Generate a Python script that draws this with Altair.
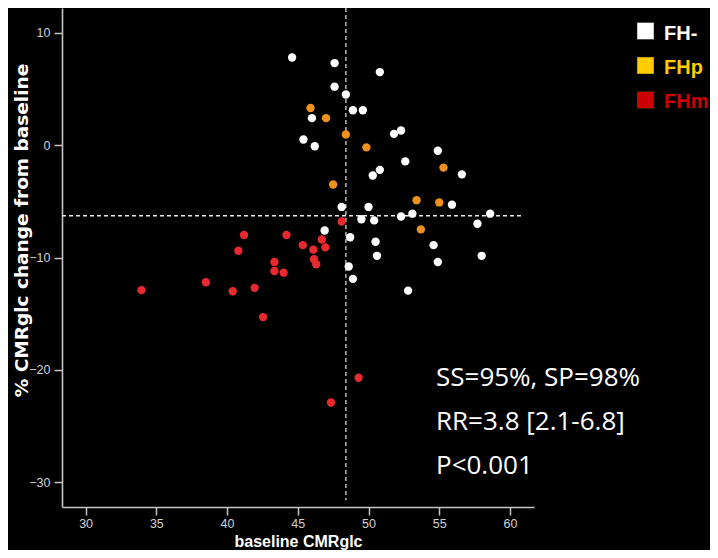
import altair as alt
import pandas as pd

# ---- data ----
fh_neg_x = [44.6, 47.6, 47.6, 48.4, 50.8, 48.9, 49.6, 46.0, 45.4, 46.2, 51.8, 52.3,
            54.9, 52.6, 50.8, 50.3, 56.6, 55.9, 48.1, 50.0, 49.5, 50.4, 52.3, 53.1,
            58.6, 57.7, 46.9, 48.7, 50.5, 54.6, 50.6, 58.0, 54.9, 48.6, 48.9, 52.8]
fh_neg_y = [7.8, 7.3, 5.2, 4.5, 6.5, 3.1, 3.1, 2.4, 0.5, -0.1, 1.0, 1.3,
            -0.5, -1.45, -2.2, -2.7, -2.6, -5.3, -5.5, -5.5, -6.6, -6.7, -6.35, -6.1,
            -6.1, -7.0, -7.6, -8.2, -8.6, -8.9, -9.85, -9.85, -10.4, -10.8, -11.9, -12.95]

fh_p_x = [45.9, 47.0, 48.4, 49.85, 47.5, 55.3, 53.4, 55.0, 53.7]
fh_p_y = [3.3, 2.4, 0.95, -0.2, -3.5, -2.0, -4.9, -5.1, -7.5]

fh_m_x = [48.1, 41.2, 44.2, 46.7, 45.35, 46.1, 46.95, 40.8, 43.35, 46.15,
          46.3, 43.35, 44.0, 38.5, 41.95, 40.4, 33.95, 42.55, 49.3, 47.35]
fh_m_y = [-6.8, -8.0, -8.0, -8.4, -8.9, -9.3, -9.1, -9.4, -10.4, -10.15,
          -10.6, -11.2, -11.35, -12.2, -12.7, -13.0, -12.9, -15.3, -20.7, -22.9]

groups = ["FH-", "FHp", "FHm"]
point_colors = ["#ffffff", "#f0911e", "#e8292e"]
legend_colors = ["#ffffff", "#ffcc00", "#cc0000"]

x_ticks = [30, 35, 40, 45, 50, 55, 60]
y_ticks = [10, 0, -10, -20, -30]
x_domain = [28.33, 61.7]
y_domain = [-32.2, 12.2]

vline_x = 48.4
vline_y = [12.2, -31.6]
hline_y = -6.28
hline_x = [28.33, 60.9]

stats_lines = ["SS=95%, SP=98%", "RR=3.8 [2.1-6.8]", "P<0.001"]

rows = []
for g, xs, ys in zip(groups, [fh_neg_x, fh_p_x, fh_m_x], [fh_neg_y, fh_p_y, fh_m_y]):
    for a, b in zip(xs, ys):
        rows.append({"baseline": a, "change": b, "group": g})
df = pd.DataFrame(rows)

W, H = 472, 499

x_enc = alt.X("baseline:Q", scale=alt.Scale(domain=x_domain, nice=False, zero=False),
              axis=alt.Axis(values=x_ticks, title="baseline CMRglc", titleY=39,
                            titleBaseline="alphabetic", titleFont="Liberation Sans",
                            titleFontSize=16, titleFontWeight="bold", tickSize=8,
                            labelPadding=2))
y_enc = alt.Y("change:Q", scale=alt.Scale(domain=y_domain, nice=False, zero=False),
              axis=alt.Axis(values=y_ticks, title="% CMRglc change from baseline",
                            titleX=-35, titleY=222, titleBaseline="alphabetic",
                            titleAlign="center", titleAngle=270,
                            titleFont="DejaVu Sans", titleFontSize=18.5,
                            titleFontWeight="bold", tickSize=8, labelPadding=4))

points = alt.Chart(df).mark_circle(size=70, opacity=1).encode(
    x=x_enc, y=y_enc,
    color=alt.Color("group:N", scale=alt.Scale(domain=groups, range=point_colors), legend=None),
    order=alt.Order("group:N", sort="descending"),
)

vrule = alt.Chart(pd.DataFrame({"a": [0]})).mark_rule(
    color="#b8b8b8", strokeWidth=1.5, strokeDash=[4, 3]).encode(
    x=alt.datum(vline_x), y=alt.datum(vline_y[0]), y2=alt.datum(vline_y[1]))
hrule = alt.Chart(pd.DataFrame({"a": [0]})).mark_rule(
    color="#e8e8e8", strokeWidth=1.5, strokeDash=[4, 3]).encode(
    y=alt.datum(hline_y), x=alt.datum(hline_x[0]), x2=alt.datum(hline_x[1]))

layers = [vrule, hrule, points]

# statistics annotation
for i, line in enumerate(stats_lines):
    layers.append(
        alt.Chart(pd.DataFrame({"t": [line]})).mark_text(
            align="left", baseline="alphabetic", font="Open Sans",
            fontSize=26, color="#ffffff").encode(
            text="t:N", x=alt.value(374), y=alt.value(378 + 44 * i)))

# manual legend
for i, (lab, col) in enumerate(zip(groups, legend_colors)):
    layers.append(
        alt.Chart(pd.DataFrame({"t": [lab]})).mark_square(
            size=289, opacity=1, color=col, stroke="#222222", strokeWidth=0.5).encode(
            x=alt.value(583.5), y=alt.value(23 + 34.5 * i)))
    layers.append(
        alt.Chart(pd.DataFrame({"t": [lab]})).mark_text(
            align="left", baseline="alphabetic", font="Liberation Sans", fontWeight="bold",
            fontSize=20, color=col).encode(
            text="t:N", x=alt.value(602), y=alt.value(31.5 + 34.3 * i)))

chart = alt.layer(*layers).properties(
    width=W, height=H,
    autosize=alt.AutoSizeParams(type="none"),
    padding={"left": 54, "top": 0, "right": 176, "bottom": 43},
    background="black",
).configure_view(stroke=None).configure_axis(
    grid=False,
    domainColor="#c4c4c4", domainWidth=1.6,
    tickColor="#c4c4c4", tickWidth=1.5,
    labelColor="#d0d0d0", labelFont="Liberation Sans", labelFontSize=12.5,
    titleColor="#ffffff",
)

chart.save("out.html", embed_options={"renderer": "svg", "actions": False})
